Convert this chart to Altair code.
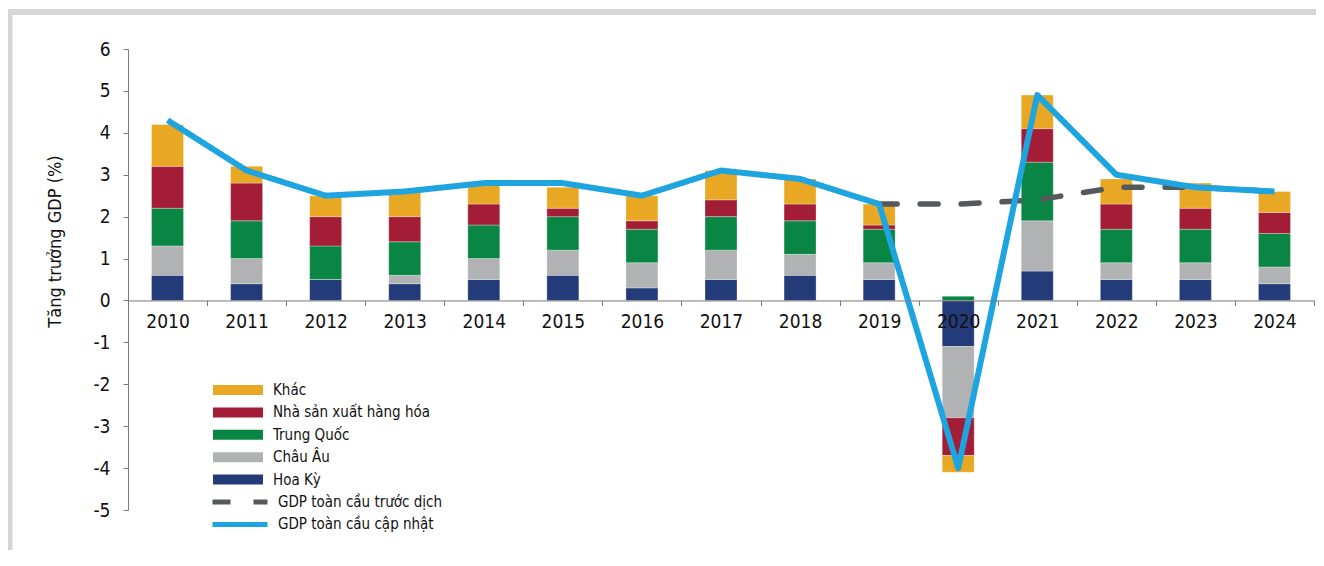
import altair as alt
import pandas as pd

FONT = "DejaVu Sans Condensed, DejaVu Sans, sans-serif"

# ---- data ----
years = [str(y) for y in range(2010, 2025)]
regions = ["Khác", "Nhà sản xuất hàng hóa", "Trung Quốc", "Châu Âu", "Hoa Kỳ"]
region_colors = ["#E9A823", "#A31D37", "#0A8644", "#B1B2B4", "#243B7A"]

hoa_ky      = [0.6, 0.4, 0.5, 0.4, 0.5, 0.6, 0.3, 0.5, 0.6, 0.5, -1.1, 0.7, 0.5, 0.5, 0.4]
chau_au     = [0.7, 0.6, 0.0, 0.2, 0.5, 0.6, 0.6, 0.7, 0.5, 0.4, -1.7, 1.2, 0.4, 0.4, 0.4]
trung_quoc  = [0.9, 0.9, 0.8, 0.8, 0.8, 0.8, 0.8, 0.8, 0.8, 0.8, 0.1, 1.4, 0.8, 0.8, 0.8]
nha_san_xuat = [1.0, 0.9, 0.7, 0.6, 0.5, 0.2, 0.2, 0.4, 0.4, 0.1, -0.9, 0.8, 0.6, 0.5, 0.5]
khac        = [1.0, 0.4, 0.5, 0.6, 0.5, 0.5, 0.6, 0.7, 0.6, 0.5, -0.4, 0.8, 0.6, 0.6, 0.5]

gdp_updated = [4.3, 3.1, 2.5, 2.6, 2.8, 2.8, 2.5, 3.1, 2.9, 2.3, -4.0, 4.9, 3.0, 2.7, 2.6]
pre_years = ["2019", "2020", "2021", "2022", "2023", "2024"]
gdp_pre = [2.3, 2.3, 2.4, 2.7, 2.7, 2.6]

series = ["GDP toàn cầu trước dịch", "GDP toàn cầu cập nhật"]
series_colors = ["#55595C", "#1EA5E0"]
y_ticks = list(range(-5, 7))
y_title = "Tăng trưởng GDP (%)"

# ---- tables ----
stack_order = {"Hoa Kỳ": 0, "Châu Âu": 1, "Trung Quốc": 2, "Nhà sản xuất hàng hóa": 3, "Khác": 4}
region_values = {
    "Hoa Kỳ": hoa_ky, "Châu Âu": chau_au, "Trung Quốc": trung_quoc,
    "Nhà sản xuất hàng hóa": nha_san_xuat, "Khác": khac,
}
bar_rows = []
for reg, vals in region_values.items():
    for yr, v in zip(years, vals):
        bar_rows.append({"year": yr, "region": reg, "value": v, "ord": stack_order[reg]})
bars_df = pd.DataFrame(bar_rows)

pre_df = pd.DataFrame({"year": pre_years, "value": gdp_pre, "series": series[0]})
upd_df = pd.DataFrame({"year": years, "value": gdp_updated, "series": series[1]})

W, H = 1186, 461
ZERO_OFFSET = -(H * 5 / 11)
TXT = "#111111"
AX = "#7a7a7a"

x_scale = alt.Scale(domain=years, paddingInner=0, paddingOuter=0)
y_scale = alt.Scale(domain=[-5, 6], nice=False, zero=False)

bars = alt.Chart(bars_df).mark_bar(size=32, stroke="#ffffff", strokeWidth=0.5, strokeOpacity=0.6).encode(
    x=alt.X("year:O", scale=x_scale, axis=alt.Axis(
        title=None, labelAngle=0, tickBand="extent", offset=ZERO_OFFSET,
        labelFontSize=19, labelFont=FONT, labelPadding=7, tickSize=5,
        domainColor=AX, tickColor=AX, labelColor=TXT,
        labelOverlap=False, zindex=1)),
    y=alt.Y("value:Q", stack="zero", scale=y_scale, axis=alt.Axis(
        values=y_ticks, labelExpr="'' + datum.value",
        title=y_title, titleFontSize=18, titleFont=FONT,
        titleFontWeight="normal", titleColor=TXT, titleX=-73, titleY=192,
        titleAngle=270, titleAlign="center", titleBaseline="middle",
        labelFontSize=19, labelFont=FONT, labelPadding=13, tickSize=5,
        domainColor=AX, tickColor=AX, labelColor=TXT,
        grid=False)),
    color=alt.Color("region:N", scale=alt.Scale(domain=regions, range=region_colors),
        legend=alt.Legend(title=None, orient="none", legendX=85, legendY=331,
            symbolType="M-1,-0.2H1V0.2H-1Z", symbolSize=2500, symbolStrokeWidth=0,
            labelFontSize=15, labelFont=FONT, labelColor=TXT, labelOffset=10,
            labelLimit=400, clipHeight=20, rowPadding=2.4, padding=0)),
    order=alt.Order("ord:Q", sort="ascending"),
)

line_legend = alt.Legend(title=None, orient="none", legendX=82, legendY=443,
    symbolType="stroke", symbolSize=3025, symbolStrokeWidth=5,
    labelFontSize=15, labelFont=FONT, labelColor=TXT, labelOffset=8,
    labelLimit=400, clipHeight=20, rowPadding=2.4, padding=0)

stroke_enc = alt.Stroke("series:N", scale=alt.Scale(domain=series, range=series_colors), legend=line_legend)
dash_enc = alt.StrokeDash("series:N", scale=alt.Scale(domain=series, range=[[18, 23], [1, 0]]), legend=line_legend)

pre_line = alt.Chart(pre_df).mark_line(strokeWidth=5.5, strokeCap="round").encode(
    x=alt.X("year:O", scale=x_scale),
    y=alt.Y("value:Q", scale=y_scale),
    stroke=stroke_enc, strokeDash=dash_enc,
)
upd_line = alt.Chart(upd_df).mark_line(strokeWidth=6, strokeJoin="round").encode(
    x=alt.X("year:O", scale=x_scale),
    y=alt.Y("value:Q", scale=y_scale),
    stroke=stroke_enc, strokeDash=dash_enc,
)

one = pd.DataFrame({"k": [0]})
border_left = alt.Chart(one).mark_rule(color="#D6D6D6", strokeWidth=5).encode(
    x=alt.value(-118), y=alt.value(-40), y2=alt.value(H + 40))
border_top = alt.Chart(one).mark_rule(color="#D6D6D6", strokeWidth=6).encode(
    x=alt.value(-120), x2=alt.value(W + 2), y=alt.value(-37))

chart = alt.layer(border_left, border_top, bars, pre_line, upd_line).properties(
    width=W, height=H,
    autosize=alt.AutoSizeParams(type="none"),
    padding={"left": 120, "top": 41, "right": 2, "bottom": 40},
).configure(font=FONT).configure_view(stroke="transparent", strokeWidth=0)

chart.save("out.html", embed_options={"renderer": "svg", "actions": False})
